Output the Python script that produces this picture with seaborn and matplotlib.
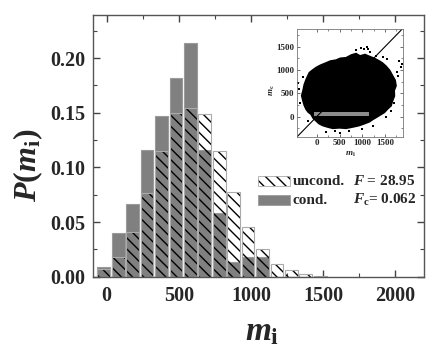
import matplotlib
matplotlib.use("Agg")
import matplotlib.pyplot as plt
import seaborn as sns
import numpy as np

# histogram bins (centre of each bar, m_i)
bin_centers = [-20, 80, 180, 280, 380, 480, 580, 680, 780, 880, 980, 1080, 1180, 1280, 1380, 1480]
p_cond = [0.0085, 0.0397, 0.0666, 0.1157, 0.1472, 0.182, 0.2137, 0.1157,
          0.058, 0.0137, 0.0183, 0.0183, 0.0, 0.0, 0.0, 0.0]
p_uncond = [0.0073, 0.018, 0.0409, 0.0766, 0.1151, 0.150, 0.1545, 0.1487,
            0.1154, 0.077, 0.0458, 0.025, 0.0113, 0.0058, 0.0021, 0.0005]

# inset: ragged outline of the dense scatter cloud (m_i, m_c)
cloud_x = [-330, -300, -272, -230, -163, -100, -16, 80, 204, 300, 423, 520, 643, 760,
           862, 950, 1060, 1155, 1260, 1375, 1440, 1521, 1600, 1667, 1720, 1740, 1700,
           1704, 1660, 1630, 1560, 1484, 1400, 1301, 1230, 1155, 1050, 935, 800, 643,
           500, 350, 230, 131, 50, -16, -80, -125, -190, -235, -272, -300]
cloud_y = [450, 560, 690, 800, 940, 990, 1050, 1100, 1150, 1190, 1210, 1250, 1260, 1320,
           1350, 1300, 1330, 1290, 1250, 1190, 1150, 1080, 990, 870, 780, 660, 560,
           440, 330, 230, 170, 90, 40, -20, -60, -110, -150, -190, -220, -250,
           -240, -250, -220, -190, -150, -90, -30, 50, 100, 160, 240, 330]
# scattered outliers around the cloud
out_x = [980, 1040, 1100, 1120, 860, 1180, 1810, 1880, 1850, 1780, -420, -390,
         1230, 1520, 500, 200, 1300, 1550, 1760, -360, 700, 1000, 1620, -200,
         1450, 400, 1690, -300]
out_y = [1480, 1450, 1500, 1440, 1420, 1380, 1200, 1130, 1060, 880, 730, 590,
         -194, -10, -360, -330, 1300, 1230, 950, 300, -300, -260, 120, -100,
         1280, -310, 300, 850]
# grey band of conditioned points
band_x = [-60, 1140]
band_y_lo = [6, 6]
band_y_hi = [91, 91]

sns.set_style("ticks")
plt.rcParams["font.family"] = ["Liberation Serif", "DejaVu Serif"]
plt.rcParams["font.weight"] = "bold"
plt.rcParams["mathtext.fontset"] = "custom"
plt.rcParams["mathtext.it"] = "Liberation Serif:italic:bold"
plt.rcParams["mathtext.rm"] = "Liberation Serif:bold"
plt.rcParams["mathtext.bf"] = "Liberation Serif:bold"
plt.rcParams["hatch.linewidth"] = 1.0

fig = plt.figure(figsize=(4.36, 3.49), dpi=100)
ax = fig.add_axes([0.2126, 0.2072, 0.7599, 0.7488])

sns.barplot(x=bin_centers, y=p_cond, native_scale=True, width=0.88, color="#808080",
            saturation=1, errorbar=None, edgecolor="#9a9a9a", linewidth=0.8, ax=ax)
sns.barplot(x=bin_centers, y=p_uncond, native_scale=True, width=0.88, color="black",
            fill=False, errorbar=None, hatch="\\\\\\", linewidth=0, ax=ax)
sns.barplot(x=bin_centers, y=p_uncond, native_scale=True, width=0.88, color="#aaaaaa",
            fill=False, errorbar=None, linewidth=0.8, ax=ax)

ax.set_xlim(-97, 2200)
ax.set_ylim(0, 0.239)
ax.set_xticks([0, 500, 1000, 1500, 2000])
ax.set_xticks([250, 750, 1250, 1750], minor=True)
ax.set_yticks([0.0, 0.05, 0.10, 0.15, 0.20])
ax.set_yticks([0.025, 0.075, 0.125, 0.175, 0.225], minor=True)
ax.set_yticklabels(["0.00", "0.05", "0.10", "0.15", "0.20"])
ax.set_xticklabels(["0", "500", "1000", "1500", "2000"])
ax.tick_params(which="both", direction="in", top=True, right=True, color="#444444")
ax.tick_params(which="major", length=5, width=1, labelsize=14.5, pad=5)
ax.tick_params(which="minor", length=3, width=0.8)
ax.tick_params(axis="x", pad=7)
for s in ax.spines.values():
    s.set_color("#555555")
    s.set_linewidth(1.0)
ax.set_xlabel("")
ax.set_ylabel("")

fig.text(28 / 436, 1 - 165 / 349, r"$P(m_{\mathrm{i}})$", rotation=90,
         ha="center", va="center", fontsize=23)
fig.text(262 / 436, 0.05, r"$m_{\mathrm{i}}$", ha="center", va="center", fontsize=24)

# legend drawn by hand
ax.add_patch(plt.Rectangle((0.499, 0.347), 0.097, 0.038, transform=ax.transAxes,
                           facecolor="white", edgecolor="black", hatch="\\\\\\",
                           linewidth=0, clip_on=False))
ax.add_patch(plt.Rectangle((0.499, 0.347), 0.097, 0.038, transform=ax.transAxes,
                           facecolor="none", edgecolor="#aaaaaa", linewidth=0.6))
ax.add_patch(plt.Rectangle((0.499, 0.274), 0.097, 0.038, transform=ax.transAxes,
                           facecolor="#808080", edgecolor="#9a9a9a", linewidth=0.6))
ax.text(0.603, 0.366, "uncond.", transform=ax.transAxes, va="center", fontsize=11)
ax.text(0.603, 0.293, "cond.", transform=ax.transAxes, va="center", fontsize=11)
ax.text(0.786, 0.366, r"$F$ = 28.95", transform=ax.transAxes, va="center", fontsize=11)
ax.text(0.786, 0.293, r"$F_{\mathrm{c}}$= 0.062", transform=ax.transAxes, va="center", fontsize=11)

# inset scatter
ins = fig.add_axes([0.6805, 0.6083, 0.2445, 0.3077])
ins.fill(cloud_x, cloud_y, color="black", linewidth=1.2, edgecolor="black")
sns.scatterplot(x=out_x, y=out_y, color="black", s=3, marker="s", linewidth=0, ax=ins)
ins.fill_between(band_x, band_y_lo, band_y_hi, color="#8c8c8c", linewidth=0)
ins.axline((0, 0), slope=1, color="black", linewidth=0.8)
ins.set_xlim(-440, 1900)
ins.set_ylim(-430, 1870)
ins.set_xticks([0, 500, 1000, 1500])
ins.set_yticks([0, 500, 1000, 1500])
ins.set_xticks([250, 750, 1250, 1750], minor=True)
ins.set_yticks([-250, 250, 750, 1250, 1750], minor=True)
ins.tick_params(which="both", direction="in", top=True, right=True, labelsize=6.5,
                pad=2, color="#555555")
ins.tick_params(which="major", length=2.5, width=0.6)
ins.tick_params(which="minor", length=1.5, width=0.5)
for s in ins.spines.values():
    s.set_color("#777777")
    s.set_linewidth(0.6)
fig.text(272 / 436, 1 - 90 / 349, r"$m_{\mathrm{c}}$", rotation=90, ha="center",
         va="center", fontsize=6.5)
fig.text(350 / 436, 1 - 154 / 349, r"$m_{\mathrm{i}}$", ha="center", va="center",
         fontsize=6.5)

fig.savefig("out.png", dpi=100)
